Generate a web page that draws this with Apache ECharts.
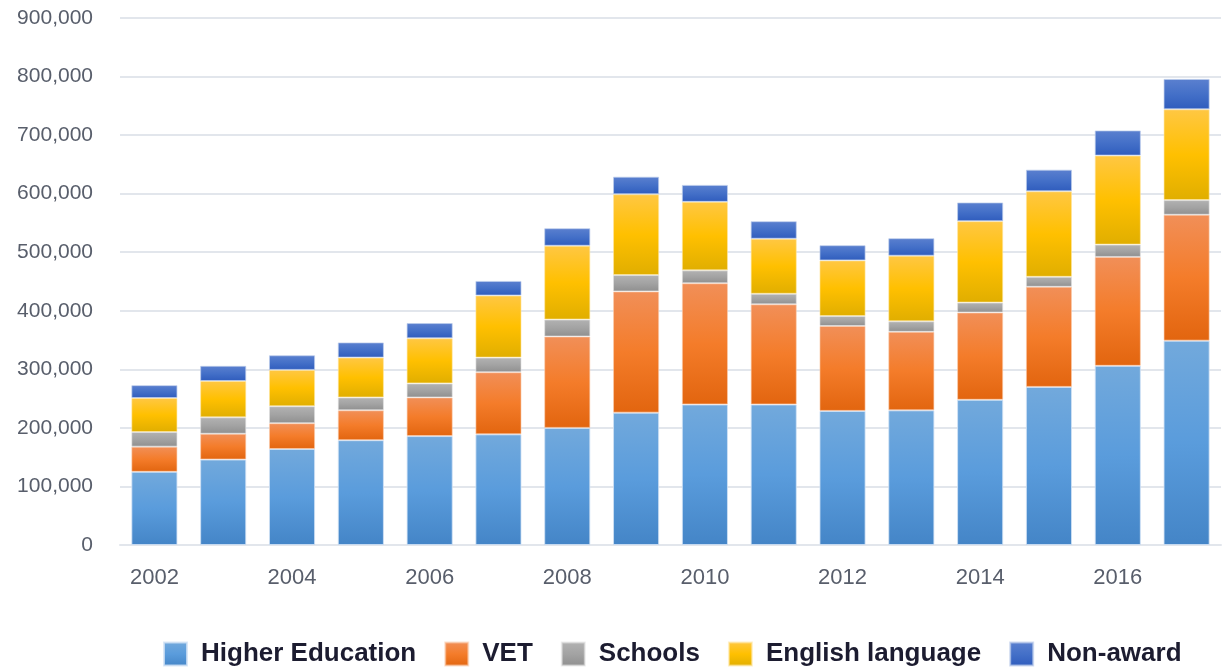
<!DOCTYPE html>
<html>
<head>
<meta charset="utf-8">
<script src="https://cdn.jsdelivr.net/npm/echarts@6/dist/echarts.min.js"></script>
<style>
    html, body { margin: 0; padding: 0; background: #fff; }
    #chart { width: 1228px; height: 669px; }
</style>
</head>
<body>
<div id="chart"></div>
<script>
const years = ['2002', '2003', '2004', '2005', '2006', '2007', '2008', '2009',
    '2010', '2011', '2012', '2013', '2014', '2015', '2016', '2017']

const higherEducation = [125000, 146000, 164000, 179000, 186000, 189000, 200000, 226000,
    240000, 240000, 229000, 230000, 248000, 270000, 306000, 349000]
const vet = [43000, 44000, 44000, 51000, 66000, 106000, 156000, 207000,
    207000, 171000, 145000, 134000, 149000, 171000, 186000, 215000]
const schools = [25000, 28000, 29000, 22000, 24000, 25000, 29000, 28000,
    22000, 18000, 17000, 18000, 17000, 17000, 21000, 25000]
const englishLanguage = [58000, 62000, 62000, 68000, 77000, 106000, 126000, 138000,
    117000, 94000, 95000, 112000, 139000, 146000, 152000, 155000]
const nonAward = [22000, 26000, 25000, 26000, 26000, 25000, 30000, 30000,
    29000, 30000, 26000, 30000, 32000, 37000, 43000, 52000]

const grad = (stops) => new echarts.graphic.LinearGradient(0, 0, 0, 1,
    stops.map((c, i) => ({ offset: i / (stops.length - 1), color: c })))

const makeSeries = (name, data, stops, border) => ({
    name,
    type: 'bar',
    stack: 'total',
    data,
    barCategoryGap: '33%',
    itemStyle: {
        color: grad(stops),
        borderColor: border,
        borderWidth: 1,
    },
})

const chart = echarts.init(document.getElementById('chart'))

chart.setOption({
    animation: false,
    legend: {
        left: 158,
        top: 636,
        icon: 'rect',
        itemWidth: 23,
        itemHeight: 23,
        itemGap: 28,
        textStyle: {
            fontFamily: 'Liberation Sans',
            fontWeight: 'bold',
            fontSize: 26,
            color: '#1c1c30',
            padding: [0, 0, 0, 9],
        },
    },
    grid: {
        left: 120,
        right: 7,
        top: 18,
        bottom: 124,
    },
    xAxis: {
        type: 'category',
        data: years,
        axisLine: { show: true, lineStyle: { color: '#e2e6ec', width: 2 } },
        axisTick: { show: false },
        axisLabel: {
            interval: 1,
            margin: 22,
            fontFamily: 'Liberation Sans',
            fontSize: 22,
            color: '#585e6b',
        },
    },
    yAxis: {
        type: 'value',
        min: 0,
        max: 900000,
        interval: 100000,
        axisLine: { show: false },
        axisTick: { show: false },
        splitLine: { lineStyle: { color: '#e2e6ec', width: 2 } },
        axisLabel: {
            margin: 27,
            fontFamily: 'Liberation Sans',
            fontSize: 21,
            color: '#585e6b',
            formatter: (v) => v.toLocaleString('en-US'),
        },
    },
    series: [
        makeSeries('Higher Education', higherEducation, ['#72a9dc', '#5a9cdc', '#4485c7'], 'rgba(210,226,245,0.8)'),
        makeSeries('VET', vet, ['#f18f58', '#f47c2a', '#e2650f'], 'rgba(250,205,175,0.6)'),
        makeSeries('Schools', schools, ['#b2b2b2', '#a3a3a3', '#8f8f8f'], 'rgba(225,225,225,0.6)'),
        makeSeries('English language', englishLanguage, ['#ffc743', '#ffc000', '#e0ae00'], 'rgba(255,230,160,0.6)'),
        makeSeries('Non-award', nonAward, ['#5b80cf', '#4470c8', '#2f5cbd'], 'rgba(190,205,235,0.7)'),
    ],
})

window.addEventListener('resize', () => chart.resize())
</script>
</body>
</html>
